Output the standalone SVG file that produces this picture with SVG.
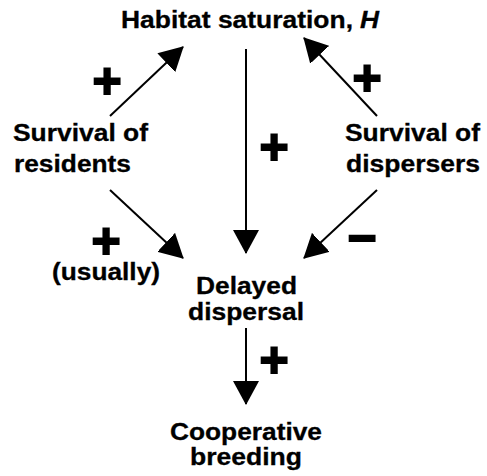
<svg xmlns="http://www.w3.org/2000/svg" width="487" height="476" viewBox="0 0 487 476">
<style>
.t{font-family:"Liberation Sans",Arial,sans-serif;font-weight:bold;font-size:23.5px;fill:#000;stroke:#000;stroke-width:0.3}
.s{font-family:"Liberation Sans",Arial,sans-serif;font-weight:bold;font-size:50px;fill:#000;stroke:#000;stroke-width:1.8;text-anchor:middle}
.c{stroke:#000;stroke-width:2;fill:none;marker-end:url(#ah)}
</style>
<defs>
<marker id="ah" markerUnits="userSpaceOnUse" markerWidth="24" markerHeight="26" viewBox="0 0 24 26" refX="23" refY="13" orient="auto">
<path d="M0,0 L24,13 L0,26 Z" fill="#000"/>
</marker>
</defs>
<rect width="487" height="476" fill="#fff"/>
<g id="connectors">
<line class="c" x1="110" y1="116" x2="183" y2="47"/>
<line class="c" x1="377" y1="116" x2="304" y2="38"/>
<line class="c" x1="246" y1="49" x2="246" y2="253"/>
<line class="c" x1="110" y1="190" x2="183" y2="258"/>
<line class="c" x1="377" y1="190" x2="304" y2="258"/>
<line class="c" x1="246" y1="328" x2="246" y2="404"/>
</g>
<g id="labels">
<text class="s" x="107" y="98">+</text>
<text class="s" x="367" y="95">+</text>
<text class="s" x="274" y="164">+</text>
<text class="s" x="106" y="258">+</text>
<text class="s" x="362" y="255">−</text>
<text class="s" x="274" y="377">+</text>
<text class="t" x="52" y="280" textLength="108" lengthAdjust="spacingAndGlyphs">(usually)</text>
</g>
<g id="habitat">
<text class="t" x="121" y="28" textLength="232" lengthAdjust="spacingAndGlyphs">Habitat saturation,</text>
<text class="t" x="360" y="28" font-style="italic" textLength="19" lengthAdjust="spacingAndGlyphs">H</text>
</g>
<g id="residents">
<text class="t" x="13" y="141" textLength="135" lengthAdjust="spacingAndGlyphs">Survival of</text>
<text class="t" x="14" y="172" textLength="117" lengthAdjust="spacingAndGlyphs">residents</text>
</g>
<g id="dispersers">
<text class="t" x="345" y="141" textLength="135" lengthAdjust="spacingAndGlyphs">Survival of</text>
<text class="t" x="346" y="172" textLength="134" lengthAdjust="spacingAndGlyphs">dispersers</text>
</g>
<g id="delayed">
<text class="t" x="196" y="294" textLength="101" lengthAdjust="spacingAndGlyphs">Delayed</text>
<text class="t" x="188" y="320" textLength="116" lengthAdjust="spacingAndGlyphs">dispersal</text>
</g>
<g id="cooperative">
<text class="t" x="170" y="440" textLength="152" lengthAdjust="spacingAndGlyphs">Cooperative</text>
<text class="t" x="190" y="465" textLength="112" lengthAdjust="spacingAndGlyphs">breeding</text>
</g>
</svg>
